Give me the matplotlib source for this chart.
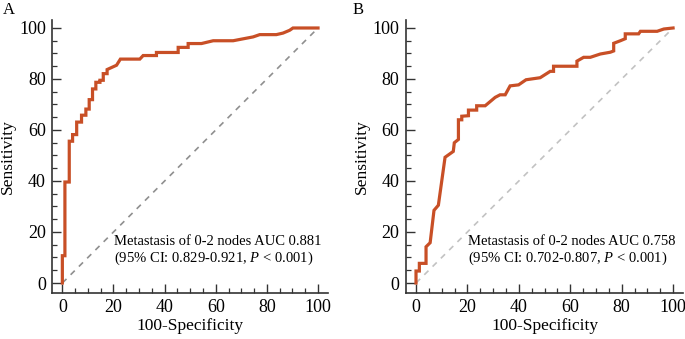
import matplotlib
matplotlib.use("Agg")
import matplotlib.pyplot as plt
from matplotlib.ticker import MultipleLocator

plt.rcParams['font.family'] = ['Liberation Serif', 'DejaVu Serif']
plt.rcParams['mathtext.fontset'] = 'custom'
plt.rcParams['mathtext.rm'] = 'Liberation Serif'
plt.rcParams['mathtext.it'] = 'Liberation Serif:italic'

# Panel A ROC points (100-Specificity, Sensitivity)
fpr_a = [0, 0, 1.0, 1.0, 2.7, 2.7, 4.0, 4.0, 5.6, 5.6, 7.5, 7.5, 9.2, 9.2,
         10.5, 10.5, 11.8, 11.8, 13.1, 13.1, 14.7, 14.7, 16.0, 16.0, 17.5, 17.5,
         21.2, 22.7, 30.3, 31.6, 36.8, 36.8, 45.3, 45.3, 49.2, 49.2, 54.4, 59.0,
         66.8, 74.6, 77.2, 83.7, 86.3, 88.9, 90.2, 100]
tpr_a = [0, 10.7, 10.7, 39.6, 39.6, 55.6, 55.6, 58.2, 58.2, 63.1, 63.1, 65.8,
         65.8, 68.2, 68.2, 71.9, 71.9, 76.1, 76.1, 78.7, 78.7, 79.5, 79.5, 82.1,
         82.1, 83.7, 85.4, 87.8, 87.8, 89.2, 89.2, 90.4, 90.4, 92.4, 92.4, 93.9,
         93.9, 95.0, 95.0, 96.5, 97.4, 97.4, 98.0, 99.1, 100, 100]

# Panel B ROC points
fpr_b = [0, 0, 1.3, 1.3, 3.9, 3.9, 5.5, 7.0, 8.7, 11.3, 14.5, 14.9, 16.5, 16.5,
         17.8, 17.8, 20.4, 20.4, 23.6, 23.6, 26.9, 30.8, 32.7, 34.7, 36.6, 39.9,
         42.8, 48.3, 52.2, 53.5, 53.5, 62.6, 62.6, 65.2, 67.8, 71.7, 75.6, 76.9,
         76.9, 79.5, 81.4, 81.4, 86.6, 87.3, 93.8, 96.4, 100]
tpr_b = [0, 4.7, 4.7, 7.7, 7.7, 14.2, 15.8, 28.5, 30.5, 49.3, 51.6, 55.0, 56.3,
         64.0, 64.0, 65.4, 65.6, 67.8, 67.8, 69.5, 69.5, 72.8, 73.8, 73.8, 77.3,
         77.7, 79.7, 80.5, 83.0, 83.0, 85.0, 85.0, 87.0, 88.5, 88.5, 89.8, 90.5,
         91.0, 94.0, 95.0, 95.8, 97.7, 97.7, 98.7, 98.7, 99.6, 100]

labels = ["A", "B"]
auc_lines = ["Metastasis of 0-2 nodes AUC 0.881", "Metastasis of 0-2 nodes AUC 0.758"]
ci_lines = [r"(95% CI: 0.829-0.921, $\it{P}$ < 0.001)",
            r"(95% CI: 0.702-0.807, $\it{P}$ < 0.001)"]
diag_colors = ["#8f8f8f", "#c2c2c2"]

fig = plt.figure(figsize=(6.85, 3.39), dpi=100)
rects = [[0.0761, 0.1351, 0.4031, 0.8049], [0.5923, 0.1351, 0.4053, 0.8049]]
curves = [(fpr_a, tpr_a), (fpr_b, tpr_b)]
label_x = [0.004, 0.515]

for i in range(2):
    ax = fig.add_axes(rects[i])
    fx, ty = curves[i]
    ax.plot([0, 100], [0, 100], color=diag_colors[i], lw=1.2, ls=(0, (3.5, 3.5)))
    ax.plot(fx, ty, color="#C84F26", lw=2.3, solid_joinstyle='miter')
    ax.set_xlim(-4, 104)
    ax.set_ylim(-4, 103)
    ax.spines['top'].set_visible(False)
    ax.spines['right'].set_visible(False)
    for s in ['left', 'bottom']:
        ax.spines[s].set_linewidth(1.2)
        ax.spines[s].set_color('#333333')
    ax.xaxis.set_major_locator(MultipleLocator(20))
    ax.xaxis.set_minor_locator(MultipleLocator(5))
    ax.yaxis.set_major_locator(MultipleLocator(20))
    ax.yaxis.set_minor_locator(MultipleLocator(5))
    ax.tick_params(which='major', direction='in', length=6.5, width=1.0,
                   color='#333333', labelsize=13, pad=4.5)
    ax.tick_params(which='minor', direction='in', length=3.3, width=0.9,
                   color='#333333')
    ax.set_xlabel("100-Specificity", fontsize=12.5, labelpad=1)
    ax.set_ylabel("Sensitivity", fontsize=12.5, labelpad=2)
    ax.text(20.3, 16.2, auc_lines[i], fontsize=10.5, ha='left', va='center')
    ax.text(20.3, 9.7, ci_lines[i], fontsize=10.5, ha='left', va='center')
    fig.text(label_x[i], 0.97, labels[i], fontsize=12, ha='left', va='center')

fig.savefig("out.png", dpi=100)
